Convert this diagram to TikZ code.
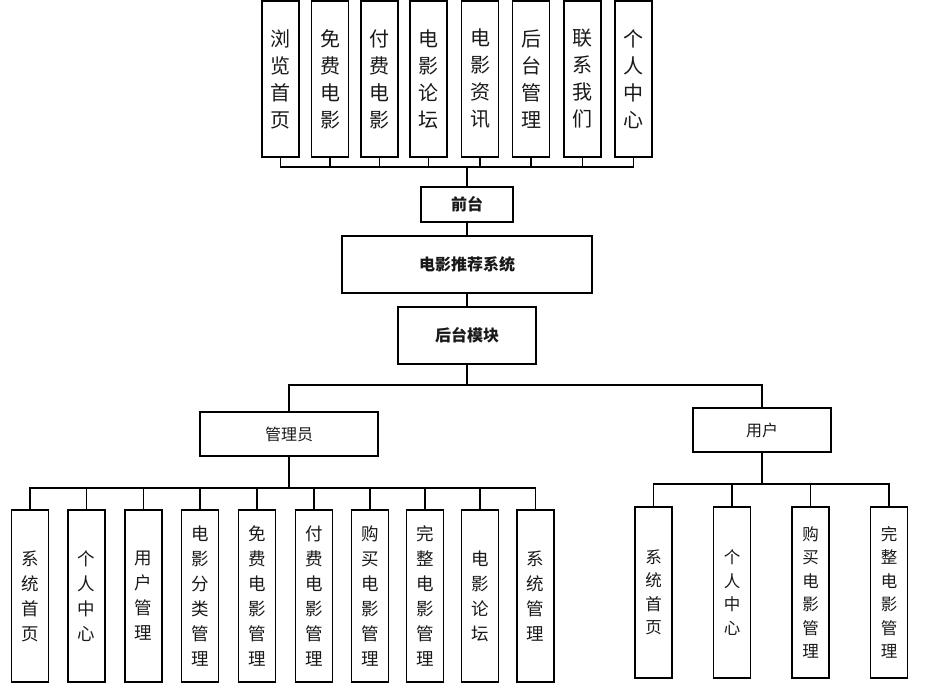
\documentclass[tikz,border=0pt]{standalone}
\usepackage{fontspec}
\usepackage{tikz}
\usetikzlibrary{positioning}
\setmainfont{Noto Sans CJK SC}

\begin{document}
\begin{tikzpicture}[x=1pt, y=-1pt, every text node part/.style={align=center},
    box/.style={draw, line width=1.3pt, inner sep=0pt, text=black!90},
    topbox/.style={box, minimum width=37pt, minimum height=156pt, font=\fontsize{20}{27}\selectfont},
    leftbox/.style={box, minimum width=37pt, minimum height=172pt, font=\fontsize{17.5}{25}\selectfont},
    rightbox/.style={box, minimum width=37pt, minimum height=171pt, font=\fontsize{16.5}{23.5}\selectfont},
    link/.style={line width=1.3pt},
    trunk/.style={line width=1.8pt}]
    \useasboundingbox (0,0) rectangle (940,694);

    % front end pages
    \node[topbox] (browse) at (280.5,79) {浏\\览\\首\\页};
    \node[topbox] (free) at (330,79) {免\\费\\电\\影};
    \node[topbox] (paid) at (379.5,79) {付\\费\\电\\影};
    \node[topbox] (forum) at (428.5,79) {电\\影\\论\\坛};
    \node[topbox] (news) at (480,79) {电\\影\\资\\讯};
    \node[topbox] (admin) at (531,79) {后\\台\\管\\理};
    \node[topbox] (contact) at (582.5,79) {联\\系\\我\\们};
    \node[topbox] (personal) at (633.5,79) {个\\人\\中\\心};

    \node[box, minimum width=92pt, minimum height=35pt, font=\fontsize{16}{16}\selectfont\bfseries] (front) at (467,204.5) {前台};
    \node[box, minimum width=250pt, minimum height=57pt, font=\fontsize{16}{16}\selectfont\bfseries] (system) at (467,264.5) {电影推荐系统};
    \node[box, minimum width=138pt, minimum height=57pt, font=\fontsize{16}{16}\selectfont\bfseries] (back) at (467,335.5) {后台模块};

    \node[box, minimum width=178pt, minimum height=44pt, font=\fontsize{16}{16}\selectfont] (manager) at (289,434) {管理员};
    \node[box, minimum width=138pt, minimum height=44pt, font=\fontsize{16}{16}\selectfont] (user) at (762,430) {用户};

    % manager pages
    \node[leftbox] (m home) at (30,596) {系\\统\\首\\页};
    \node[leftbox] (m personal) at (86.5,596) {个\\人\\中\\心};
    \node[leftbox] (m users) at (143.5,596) {用\\户\\管\\理};
    \node[leftbox] (m category) at (200,596) {电\\影\\分\\类\\管\\理};
    \node[leftbox] (m free) at (257,596) {免\\费\\电\\影\\管\\理};
    \node[leftbox] (m paid) at (314,596) {付\\费\\电\\影\\管\\理};
    \node[leftbox] (m buy) at (370,596) {购\\买\\电\\影\\管\\理};
    \node[leftbox] (m full) at (425,596) {完\\整\\电\\影\\管\\理};
    \node[leftbox] (m forum) at (480,596) {电\\影\\论\\坛};
    \node[leftbox] (m system) at (535.5,596) {系\\统\\管\\理};

    % user pages
    \node[rightbox] (u home) at (653.5,592.5) {系\\统\\首\\页};
    \node[rightbox] (u personal) at (732,592.5) {个\\人\\中\\心};
    \node[rightbox] (u buy) at (810.5,592.5) {购\\买\\电\\影\\管\\理};
    \node[rightbox] (u full) at (889,592.5) {完\\整\\电\\影\\管\\理};

    \coordinate (bus top) at (467,167);
    \coordinate (bus mid) at (467,385);
    \coordinate (bus left) at (289,488);
    \coordinate (bus right) at (762,484);

    \draw[link] (browse.south) |- (bus top);
    \draw[link] (free.south) |- (bus top);
    \draw[link] (paid.south) |- (bus top);
    \draw[link] (forum.south) |- (bus top);
    \draw[link] (news.south) |- (bus top);
    \draw[link] (admin.south) |- (bus top);
    \draw[link] (contact.south) |- (bus top);
    \draw[link] (personal.south) |- (bus top);
    \draw[trunk] (bus top) -- (front.north);

    \draw[link] (front) -- (system);
    \draw[link] (system) -- (back);
    \draw[link] (back) -- (bus mid);
    \draw[link] (manager.north) |- (bus mid);
    \draw[link] (user.north) |- (bus mid);

    \draw[trunk] (manager.south) -- (bus left);
    \draw[link] (m home.north) |- (bus left);
    \draw[link] (m personal.north) |- (bus left);
    \draw[link] (m users.north) |- (bus left);
    \draw[link] (m category.north) |- (bus left);
    \draw[link] (m free.north) |- (bus left);
    \draw[link] (m paid.north) |- (bus left);
    \draw[link] (m buy.north) |- (bus left);
    \draw[link] (m full.north) |- (bus left);
    \draw[link] (m forum.north) |- (bus left);
    \draw[link] (m system.north) |- (bus left);

    \draw[trunk] (user.south) -- (bus right);
    \draw[link] (u home.north) |- (bus right);
    \draw[link] (u personal.north) |- (bus right);
    \draw[link] (u buy.north) |- (bus right);
    \draw[link] (u full.north) |- (bus right);
\end{tikzpicture}
\end{document}
